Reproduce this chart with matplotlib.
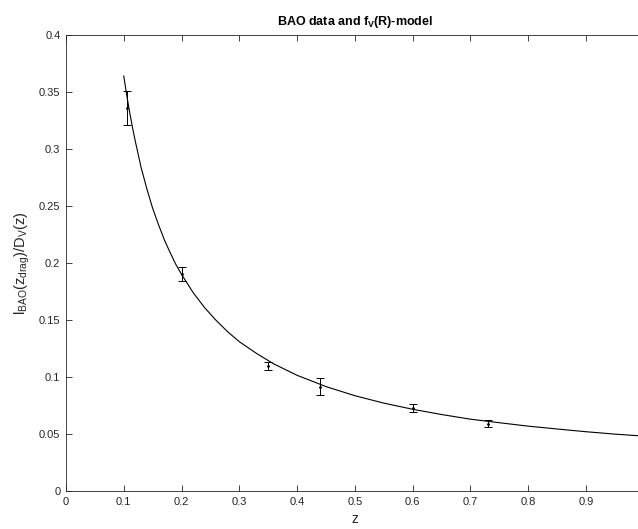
import matplotlib
matplotlib.use("Agg")
import matplotlib.pyplot as plt

plt.rcParams['font.family'] = ['Liberation Sans', 'DejaVu Sans']
plt.rcParams['mathtext.fontset'] = 'custom'
plt.rcParams['mathtext.rm'] = 'Liberation Sans'
plt.rcParams['mathtext.it'] = 'Liberation Sans'
plt.rcParams['mathtext.bf'] = 'Liberation Sans:bold'
plt.rcParams['mathtext.default'] = 'regular'

# BAO data
z_data = [0.106, 0.2, 0.35, 0.44, 0.6, 0.73]
d_data = [0.336, 0.1905, 0.1097, 0.0916, 0.0726, 0.0592]
d_err = [0.015, 0.0061, 0.0036, 0.0071, 0.0034, 0.0032]

# model curve
z_model = [0.100, 0.105, 0.110, 0.115, 0.120, 0.130, 0.140, 0.150, 0.160,
           0.170, 0.180, 0.190, 0.200, 0.220, 0.240, 0.260, 0.280, 0.300,
           0.330, 0.360, 0.400, 0.450, 0.500, 0.550, 0.600, 0.650, 0.700,
           0.750, 0.800, 0.850, 0.900, 0.950, 0.990]
d_model = [0.364, 0.3476, 0.3327, 0.3191, 0.3067, 0.2838, 0.2650, 0.2480,
           0.2338, 0.2206, 0.2094, 0.1989, 0.1900, 0.1741, 0.1608, 0.1496,
           0.1396, 0.1310, 0.1206, 0.1114, 0.1015, 0.0916, 0.0836, 0.0771,
           0.0717, 0.0671, 0.0630, 0.0599, 0.0569, 0.0544, 0.0520, 0.0499,
           0.0485]

xticks = [0, 0.1, 0.2, 0.3, 0.4, 0.5, 0.6, 0.7, 0.8, 0.9]
xticklabels = ['0', '0.1', '0.2', '0.3', '0.4', '0.5', '0.6', '0.7', '0.8', '0.9']
yticks = [0, 0.05, 0.1, 0.15, 0.2, 0.25, 0.3, 0.35, 0.4]
yticklabels = ['0', '0.05', '0.1', '0.15', '0.2', '0.25', '0.3', '0.35', '0.4']

W, H = 638, 529
fig = plt.figure(figsize=(W / 100, H / 100), dpi=100)
left, right, top, bottom = 66, 643.7, 35, 491
ax = fig.add_axes([left / W, (H - bottom) / H, (right - left) / W, (bottom - top) / H])

gray = '#262626'
ax.plot(z_model, d_model, color='k', lw=0.8)
ax.errorbar(z_data, d_data, yerr=d_err, fmt='.', color='k', ms=2,
            elinewidth=0.7, capsize=2.8, capthick=0.7)

ax.set_xlim(0, 1.0)
ax.set_ylim(0, 0.4)
ax.set_xticks(xticks)
ax.set_xticklabels(xticklabels)
ax.set_yticks(yticks)
ax.set_yticklabels(yticklabels)
ax.tick_params(direction='in', length=4, width=0.6, colors=gray, labelsize=8,
               top=True, right=True, pad=4)
for s in ax.spines.values():
    s.set_color(gray)
    s.set_linewidth(0.6)

ax.set_title('BAO data and f$_V$(R)-model', fontsize=9, fontweight='bold', pad=7)
ax.set_xlabel('z', fontsize=10, color=gray, labelpad=4)
ax.set_ylabel('l$_{BAO}$(z$_{drag}$)/D$_V$(z)', fontsize=10.5, color=gray, labelpad=5)

fig.savefig('out.png', dpi=100)
